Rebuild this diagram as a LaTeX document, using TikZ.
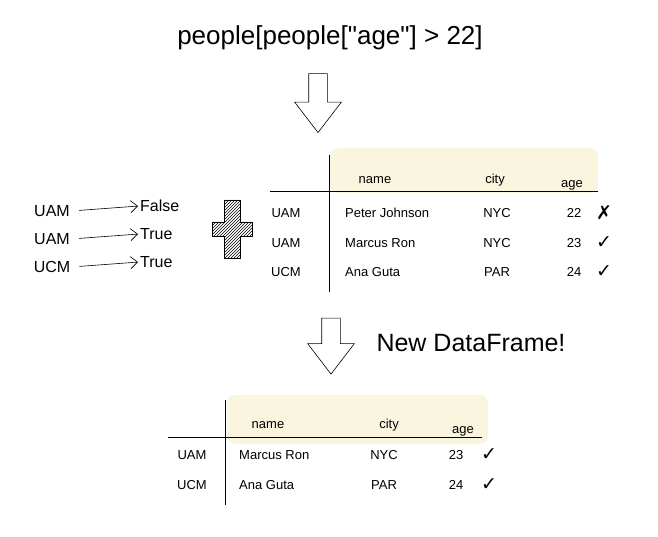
\documentclass[tikz,border=0pt]{standalone}
\usepackage{fontspec}
\setmainfont{Liberation Sans}
\newfontfamily\markfont{DejaVu Sans}
\usepackage{tikz}
\usetikzlibrary{positioning, shapes.arrows, patterns, arrows.meta}

\definecolor{hilite}{RGB}{250,245,222}

\tikzset{
	title/.style={font=\fontsize{26}{30}\selectfont},
	lbl/.style={font=\fontsize{16}{19}\selectfont, inner sep=1pt},
	cell/.style={font=\fontsize{13}{16}\selectfont, inner sep=1pt},
	tick/.style={font=\markfont\fontsize{19}{22}\selectfont, inner sep=1pt},
	downarrow/.style={single arrow, draw, semithick, fill=white, rotate=-90,
		inner xsep=0pt, inner ysep=9pt, single arrow head extend=14pt, single arrow tip angle=75},
}

\begin{document}
\begin{tikzpicture}[x=1pt, y=-1pt]
	\useasboundingbox (0,0) rectangle (658,537);

	\node[title] (query) at (330,38) {people[people[\textquotedbl age\textquotedbl] > 22]};
	\node[downarrow, minimum height=59pt] (down1) at (318,97) {};

	\foreach \r/\key/\val/\y in {1/UAM/False/211, 2/UAM/True/239, 3/UCM/True/267}
	{
		\node[lbl] (src\r) at (52,\y) {\key};
		\node[lbl, anchor=west] (res\r) at (139,\y-5) {\val};
		\draw[line width=0.6pt, -{Straight Barb[length=7pt, width=12pt]}, shorten <=8pt, shorten >=1pt] (src\r.east) -- (res\r.west);
	}

	\def\px{232}
	\def\py{229}
	\draw[semithick, pattern=north east lines]
		(\px-8,\py-29) -- (\px+8,\py-29) -- (\px+8,\py-7) -- (\px+20,\py-7)
		-- (\px+20,\py+7) -- (\px+8,\py+7) -- (\px+8,\py+29) -- (\px-8,\py+29)
		-- (\px-8,\py+7) -- (\px-20,\py+7) -- (\px-20,\py-7) -- (\px-8,\py-7) -- cycle;

	\begin{scope}
		\fill[hilite, rounded corners=8pt] (330,148) rectangle (598,193);
		\draw (329,155) -- (329,292);
		\draw (270,191) -- (598,191);
		\node[cell] (nameA) at (375,180) {name};
		\node[cell] (cityA) at (495,180) {city};
		\node[cell] (ageA) at (572,185) {age};
		\foreach \r/\key/\who/\town/\yrs/\chk/\y in {1/UAM/{Peter Johnson}/NYC/22/✗/213, 2/UAM/{Marcus Ron}/NYC/23/✓/243, 3/UCM/{Ana Guta}/PAR/24/✓/272}
		{
			\node[cell] (keyA\r) at (286,\y) {\key};
			\node[cell, anchor=west] (whoA\r) at (344,\y) {\who};
			\node[cell] (townA\r) at (497,\y) {\town};
			\node[cell] (yrsA\r) at (574,\y) {\yrs};
			\node[tick] (chkA\r) at (604,\y) {\chk};
		}
	\end{scope}

	\node[downarrow, minimum height=56pt] (down2) at (331,340) {};
	\node[title, font=\fontsize{25}{30}\selectfont] (newdf) at (471,343) {New DataFrame!};

	\begin{scope}
		\fill[hilite, rounded corners=8pt] (227,395) rectangle (488,444);
		\draw (225,400) -- (225,505);
		\draw (168,437) -- (482,437);
		\node[cell] (nameB) at (268,425) {name};
		\node[cell] (cityB) at (389,425) {city};
		\node[cell] (ageB) at (463,431) {age};
		\foreach \r/\key/\who/\town/\yrs/\chk/\y in {1/UAM/{Marcus Ron}/NYC/23/✓/455, 2/UCM/{Ana Guta}/PAR/24/✓/485}
		{
			\node[cell] (keyB\r) at (192,\y) {\key};
			\node[cell, anchor=west] (whoB\r) at (238,\y) {\who};
			\node[cell] (townB\r) at (384,\y) {\town};
			\node[cell] (yrsB\r) at (456,\y) {\yrs};
			\node[tick] (chkB\r) at (489,\y) {\chk};
		}
	\end{scope}
\end{tikzpicture}
\end{document}
